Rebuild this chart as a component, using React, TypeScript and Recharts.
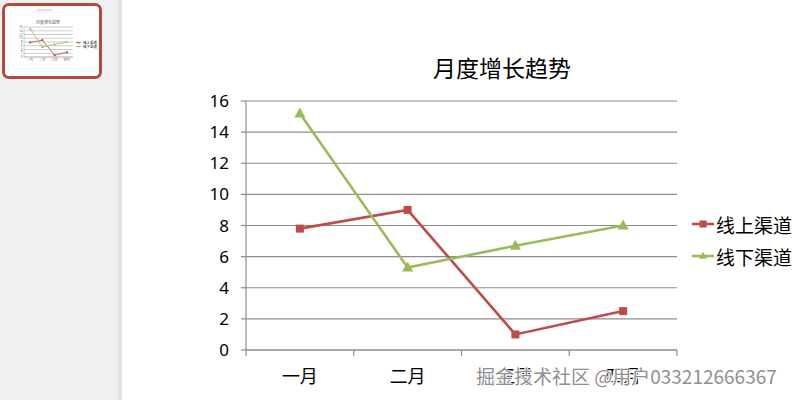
import React from 'react';
import { LineChart, Line, XAxis, YAxis, CartesianGrid, Legend } from 'recharts';

const months = ['一月', '二月', '三月', '四月'];
const onlineValues = [7.8, 9.0, 1.0, 2.5];
const offlineValues = [15.2, 5.3, 6.7, 8.0];
const yTicks = [0, 2, 4, 6, 8, 10, 12, 14, 16];
const onlineName = '线上渠道';
const offlineName = '线下渠道';
const chartTitle = '月度增长趋势';
const watermark = '掘金技术社区 @用户033212666367';

const data = months.map((m, i) => ({ month: m, online: onlineValues[i], offline: offlineValues[i] }));

const RED = '#BE4B48';
const GREEN = '#9BBB59';
const GRID = '#8c8c8c';
const CJK = '"Noto Sans CJK SC", "Noto Sans", sans-serif';
const NUM = '"Noto Sans", "Liberation Sans", sans-serif';
const LABEL_GAP = 20;

const makeSquare = (s: number) => (props: any) => {
  const { cx, cy } = props;
  if (cx == null || cy == null) return null;
  return <rect x={cx - s / 2} y={cy - s / 2} width={s} height={s} fill={RED} />;
};
const makeTriangle = (s: number) => (props: any) => {
  const { cx, cy } = props;
  if (cx == null || cy == null) return null;
  const h = s * 0.9;
  return (
    <polygon
      points={`${cx},${cy - h * 0.6} ${cx + s / 2},${cy + h * 0.4} ${cx - s / 2},${cy + h * 0.4}`}
      fill={GREEN}
    />
  );
};

const MainSquare = makeSquare(8);
const MainTriangle = makeTriangle(11);
const MiniSquare = makeSquare(2);
const MiniTriangle = makeTriangle(2.5);

const MonthTick = (props: any) => {
  const { x, y, payload, index, visibleTicksCount } = props;
  const off = payload && typeof payload.offset === 'number' ? payload.offset : 0;
  const axisY = y - LABEL_GAP;
  const isLast = visibleTicksCount != null ? index === visibleTicksCount - 1 : index === months.length - 1;
  return (
    <g>
      {off > 0 && (
        <line x1={x - off} x2={x - off} y1={axisY} y2={axisY + 6} stroke={GRID} strokeWidth={1.2} />
      )}
      {off > 0 && isLast && (
        <line x1={x + off} x2={x + off} y1={axisY} y2={axisY + 6} stroke={GRID} strokeWidth={1.2} />
      )}
      <text x={x} y={y} dy="0.71em" textAnchor="middle" fontSize={18} fill="#000" fontFamily={CJK}>
        {payload.value}
      </text>
    </g>
  );
};

const renderLegend = (fontSize: number, rowH: number, lineW: number, mk: number, sw: number) => (props: any) => {
  const payload = props.payload || [];
  return (
    <div style={{ fontFamily: CJK, fontSize, color: '#000', lineHeight: 1 }}>
      {payload.map((p: any) => {
        const isOnline = p.dataKey === 'online';
        const c = isOnline ? RED : GREEN;
        const mid = lineW / 2;
        return (
          <div key={p.value} style={{ display: 'flex', alignItems: 'center', height: rowH }}>
            <svg width={lineW + 2} height={mk * 2} style={{ display: 'block' }}>
              <line x1={0} y1={mk} x2={lineW} y2={mk} stroke={c} strokeWidth={sw} />
              {isOnline ? (
                <rect x={mid - mk / 2} y={mk - mk / 2} width={mk} height={mk} fill={c} />
              ) : (
                <polygon
                  points={`${mid},${mk - mk * 0.6} ${mid + mk * 0.6},${mk + mk * 0.4} ${mid - mk * 0.6},${mk + mk * 0.4}`}
                  fill={c}
                />
              )}
            </svg>
            <span style={{ whiteSpace: 'nowrap' }}>{p.value}</span>
          </div>
        );
      })}
    </div>
  );
};

const MainChart = () => (
  <LineChart
    width={800}
    height={400}
    data={data}
    margin={{ top: 101, right: 123, bottom: 20, left: 206 }}
  >
    <CartesianGrid horizontal vertical={false} stroke={GRID} strokeWidth={1.2} />
    <XAxis
      dataKey="month"
      scale="band"
      height={30}
      axisLine={{ stroke: GRID, strokeWidth: 1.2 }}
      tickLine={false}
      tickSize={0}
      tickMargin={LABEL_GAP}
      interval={0}
      tick={<MonthTick />}
    />
    <YAxis
      width={40}
      domain={[0, 16]}
      ticks={yTicks}
      interval={0}
      axisLine={{ stroke: GRID, strokeWidth: 1.2 }}
      tickLine={{ stroke: GRID, strokeWidth: 1.2 }}
      tickSize={5}
      tickMargin={12}
      tick={{ fontSize: 17, fill: '#000', fontFamily: NUM }}
    />
    <Line
      type="linear"
      dataKey="online"
      name={onlineName}
      stroke={RED}
      strokeWidth={2.6}
      dot={<MainSquare />}
      activeDot={false}
      isAnimationActive={false}
    />
    <Line
      type="linear"
      dataKey="offline"
      name={offlineName}
      stroke={GREEN}
      strokeWidth={2.6}
      dot={<MainTriangle />}
      activeDot={false}
      isAnimationActive={false}
    />
    <Legend
      layout="vertical"
      align="center"
      verticalAlign="middle"
      width={110}
      wrapperStyle={{ left: 692, top: 208, width: 110 }}
      content={renderLegend(19, 32, 22, 7, 2.6)}
    />
  </LineChart>
);

const MiniChart = () => (
  <LineChart
    width={96}
    height={72}
    data={data}
    margin={{ top: 20, right: 29, bottom: 16, left: 12 }}
  >
    <CartesianGrid horizontal vertical={false} stroke="#9a9a9a" strokeWidth={0.5} />
    <XAxis
      dataKey="month"
      scale="band"
      height={6}
      axisLine={{ stroke: '#9a9a9a', strokeWidth: 0.5 }}
      tickLine={false}
      tickSize={0}
      tickMargin={2}
      interval={0}
      tick={{ fontSize: 3, fill: '#666', fontFamily: CJK }}
    />
    <YAxis
      width={6}
      domain={[0, 16]}
      ticks={yTicks}
      interval={0}
      axisLine={{ stroke: '#9a9a9a', strokeWidth: 0.5 }}
      tickLine={false}
      tickSize={0}
      tickMargin={1.5}
      tick={{ fontSize: 3, fill: '#666', fontFamily: NUM }}
    />
    <Line
      type="linear"
      dataKey="online"
      name={onlineName}
      stroke={RED}
      strokeWidth={0.8}
      dot={<MiniSquare />}
      activeDot={false}
      isAnimationActive={false}
    />
    <Line
      type="linear"
      dataKey="offline"
      name={offlineName}
      stroke={GREEN}
      strokeWidth={0.8}
      dot={<MiniTriangle />}
      activeDot={false}
      isAnimationActive={false}
    />
    <Legend
      layout="vertical"
      align="center"
      verticalAlign="middle"
      width={24}
      wrapperStyle={{ left: 70, top: 33, width: 24 }}
      content={renderLegend(3.5, 4.5, 5, 1.6, 0.8)}
    />
  </LineChart>
);

export default function App() {
  return (
    <div
      style={{
        position: 'absolute',
        left: 0,
        top: 0,
        width: 800,
        height: 400,
        background: '#ffffff',
        overflow: 'hidden',
      }}
    >
      <div style={{ position: 'absolute', left: 0, top: 0, width: 118, height: 400, background: '#eff0f2' }} />
      <div style={{ position: 'absolute', left: 118, top: 0, width: 4, height: 400, background: '#e2e3e5' }} />
      <div
        style={{
          position: 'absolute',
          left: 2,
          top: 3,
          width: 94,
          height: 70,
          border: '3px solid #b8483a',
          borderRadius: 7,
          background: '#ffffff',
          overflow: 'hidden',
        }}
      >
        <div
          style={{
            position: 'absolute',
            left: 8,
            top: 3,
            width: 62,
            textAlign: 'center',
            fontSize: 2.6,
            lineHeight: '3px',
            color: '#f0a0a0',
            fontFamily: CJK,
          }}
        >
          {chartTitle}
        </div>
        <div style={{ position: 'absolute', left: 1, top: 1 }}>
          <div
            style={{
              position: 'absolute',
              left: 30,
              top: 13,
              width: 24,
              textAlign: 'center',
              fontSize: 4,
              lineHeight: '4px',
              color: '#555',
              fontFamily: CJK,
              whiteSpace: 'nowrap',
            }}
          >
            {chartTitle}
          </div>
          <MiniChart />
        </div>
      </div>
      <MainChart />
      <div
        style={{
          position: 'absolute',
          left: 433,
          top: 52,
          fontSize: 23,
          lineHeight: '30px',
          fontFamily: CJK,
          color: '#000',
          whiteSpace: 'nowrap',
        }}
      >
        {chartTitle}
      </div>
      <div
        style={{
          position: 'absolute',
          left: 476,
          top: 363,
          fontSize: 19,
          lineHeight: '26px',
          fontFamily: CJK,
          color: '#8f8f8f',
          whiteSpace: 'nowrap',
          textShadow: '0 0 2px #ffffff, 0 0 2px #ffffff, 1px 1px 0 #ffffff, -1px -1px 0 #ffffff',
        }}
      >
        {watermark}
      </div>
    </div>
  );
}
